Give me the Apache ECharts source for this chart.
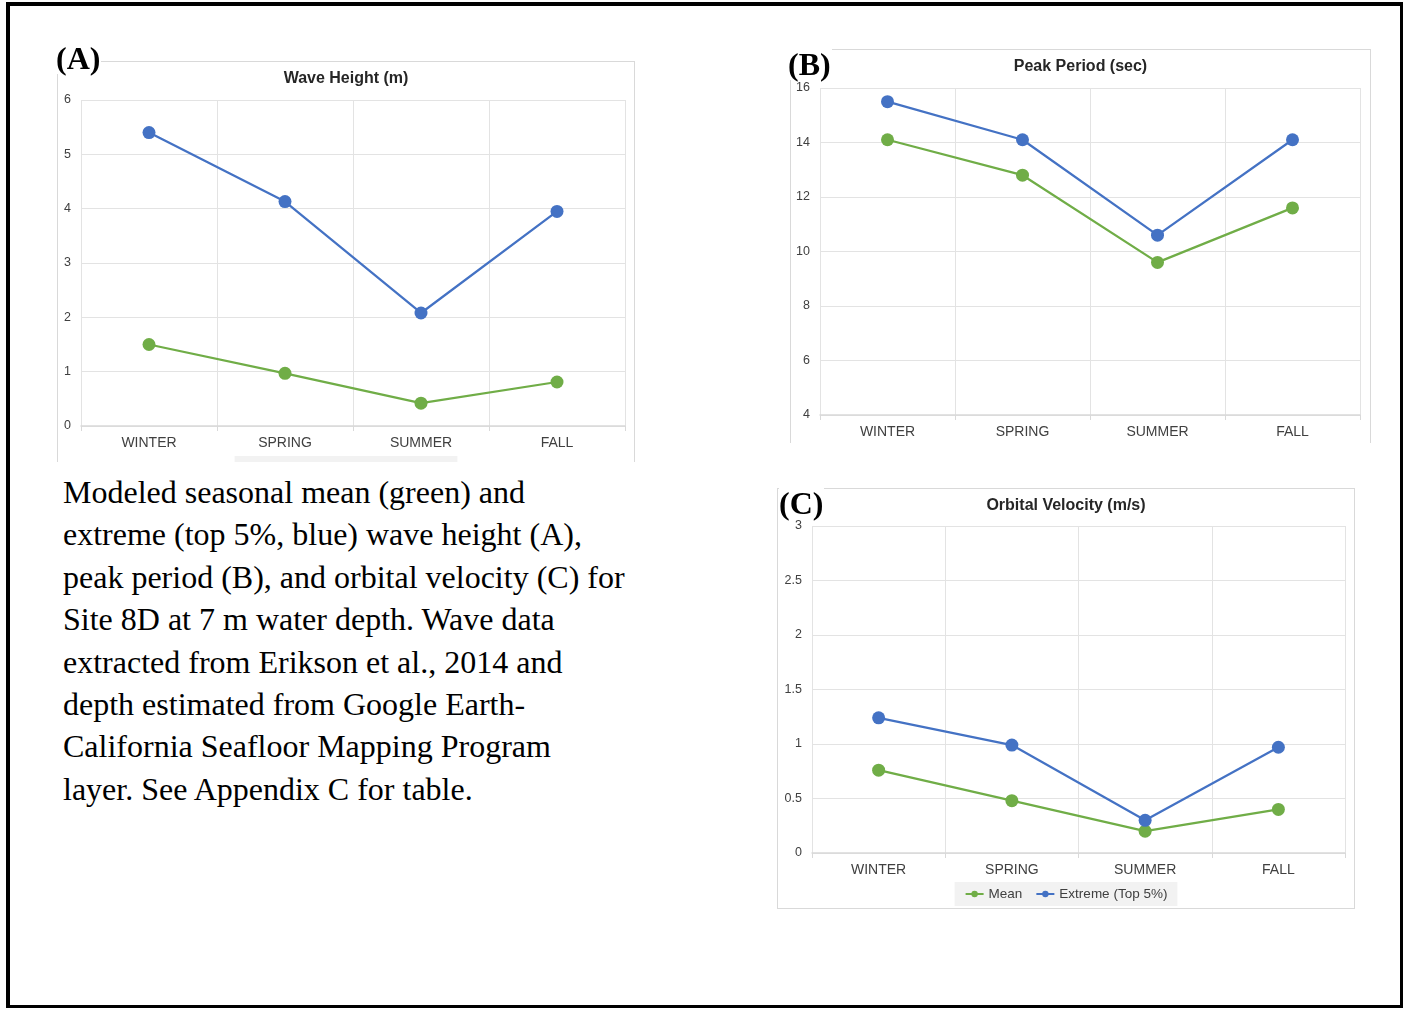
<!DOCTYPE html>
<html>
<head>
<meta charset="utf-8">
<script src="https://cdn.jsdelivr.net/npm/echarts@6/dist/echarts.min.js"></script>
<style>
  body { margin: 0; background: #fff; width: 1404px; height: 1009px; position: relative; overflow: hidden; }
  .outer { position: absolute; left: 6px; top: 2px; width: 1397px; height: 1006px; box-sizing: border-box;
    border-left: 4px solid #000; border-top: 4px solid #000; border-right: 3px solid #000; border-bottom: 3px solid #000; }
  .frame { position: absolute; box-sizing: border-box; border: 1px solid #d9d9d9; overflow: hidden; background: #fff; }
  .frame.cut { border-bottom: none; }
  .chart { position: absolute; left: 0; top: 0; }
  .tag { position: absolute; font-family: "Liberation Serif", serif; font-weight: bold; font-size: 32px;
    line-height: 32px; background: #fff; color: #000; padding-right: 1px; }
  .caption { position: absolute; left: 63px; top: 471px; font-family: "Liberation Serif", serif;
    font-size: 32px; line-height: 42.4px; color: #000; white-space: nowrap; }
</style>
</head>
<body>
<div class="outer"></div>

<div class="frame cut" style="left:57px;top:61px;width:578px;height:401px;">
  <div id="chartA" class="chart" style="width:576px;height:440px;"></div>
</div>
<div class="frame cut" style="left:790px;top:49px;width:581px;height:394px;">
  <div id="chartB" class="chart" style="width:579px;height:440px;"></div>
</div>
<div class="frame" style="left:777px;top:488px;width:578px;height:421px;">
  <div id="chartC" class="chart" style="width:576px;height:419px;"></div>
</div>

<span class="tag" style="left:56px;top:42px;">(A)</span>
<span class="tag" style="left:788px;top:48px;">(B)</span>
<span class="tag" style="left:779px;top:487px;">(C)</span>

<div class="caption">Modeled seasonal mean (green) and<br>extreme (top 5%, blue) wave height (A),<br>peak period (B), and orbital velocity (C) for<br>Site 8D at 7 m water depth. Wave data<br>extracted from Erikson et al., 2014 and<br>depth estimated from Google Earth-<br>California Seafloor Mapping Program<br>layer. See Appendix C for table.</div>

<script>
// 季节
const seasons = ['WINTER', 'SPRING', 'SUMMER', 'FALL']
const seriesNames = ['Mean', 'Extreme (Top 5%)']

// 波高 (m)
const heightMean = [1.5, 0.97, 0.42, 0.81]
const heightExtreme = [5.4, 4.13, 2.08, 3.95]

// 峰值周期 (sec)
const periodMean = [14.1, 12.8, 9.6, 11.6]
const periodExtreme = [15.5, 14.1, 10.6, 14.1]

// 轨道速度 (m/s)
const velocityMean = [0.76, 0.48, 0.2, 0.4]
const velocityExtreme = [1.24, 0.99, 0.3, 0.97]

// y 轴刻度
const heightTicks = { min: 0, max: 6, interval: 1 }
const periodTicks = { min: 4, max: 16, interval: 2 }
const velocityTicks = { min: 0, max: 3, interval: 0.5 }

const GREEN = '#70ad47'
const BLUE = '#4472c4'
const FONT = '"Liberation Sans", Arial, sans-serif'

function makeChart(id, title, mean, extreme, ticks, grid, legendTop) {
  const chart = echarts.init(document.getElementById(id))
  const lineSeries = (name, data, color) => ({
    name,
    type: 'line',
    data,
    symbol: 'circle',
    symbolSize: 13,
    color,
    lineStyle: { width: 2.25, color },
    itemStyle: { color },
    animation: false,
  })
  chart.setOption({
    animation: false,
    textStyle: { fontFamily: FONT },
    title: {
      text: title,
      left: 'center',
      top: 4,
      textStyle: { fontSize: 16, fontWeight: 'bold', color: '#262626', fontFamily: FONT },
    },
    legend: {
      data: seriesNames,
      left: 'center',
      top: legendTop,
      backgroundColor: '#f2f2f2',
      padding: [5, 10],
      itemWidth: 18,
      itemHeight: 8,
      itemGap: 13,
      textStyle: { fontSize: 13.5, color: '#404040', fontFamily: FONT },
    },
    grid: grid,
    xAxis: {
      type: 'category',
      data: seasons,
      boundaryGap: true,
      axisLine: { lineStyle: { color: '#d9d9d9', width: 1.5 } },
      axisTick: { show: true, length: 5, lineStyle: { color: '#d9d9d9' } },
      axisLabel: { fontSize: 14, color: '#404040', margin: 10 },
      splitLine: { show: true, lineStyle: { color: '#e3e3e3' } },
    },
    yAxis: {
      type: 'value',
      min: ticks.min,
      max: ticks.max,
      interval: ticks.interval,
      axisLine: { show: false },
      axisTick: { show: false },
      axisLabel: { fontSize: 12.5, color: '#404040', margin: 10 },
      splitLine: { lineStyle: { color: '#e3e3e3' } },
    },
    series: [
      lineSeries(seriesNames[0], mean, GREEN),
      lineSeries(seriesNames[1], extreme, BLUE),
    ],
  })
  return chart
}

makeChart('chartA', 'Wave Height (m)', heightMean, heightExtreme, heightTicks,
  { left: 23, top: 38, width: 544, height: 326 }, 394)
makeChart('chartB', 'Peak Period (sec)', periodMean, periodExtreme, periodTicks,
  { left: 29, top: 38, width: 540, height: 327 }, 395)
makeChart('chartC', 'Orbital Velocity (m/s)', velocityMean, velocityExtreme, velocityTicks,
  { left: 34, top: 37, width: 533, height: 327 }, 393)
</script>
</body>
</html>
